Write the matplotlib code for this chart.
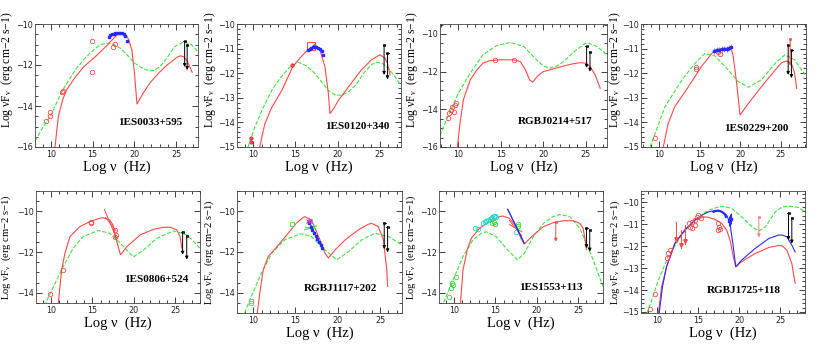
import matplotlib
matplotlib.use("Agg")
import matplotlib.pyplot as plt
from matplotlib.ticker import MultipleLocator

plt.rcParams['mathtext.fontset'] = 'custom'
plt.rcParams['mathtext.rm'] = 'Liberation Serif'
plt.rcParams['mathtext.it'] = 'Liberation Serif:italic'
plt.rcParams['font.family'] = ['DejaVu Sans']

RED = '#ff4a4a'
GREEN = '#44e044'
BLUE = '#2a2aff'

names = ["1ES0033+595", "1ES0120+340", "RGBJ0214+517", "1ES0229+200",
         "1ES0806+524", "RGBJ1117+202", "1ES1553+113", "RGBJ1725+118"]

# ---------------- Panel 1 : 1ES0033+595 ----------------
p1_green = [(8.1, -15.7), (9.1, -15.0), (10.0, -14.45), (11.3, -13.3), (11.9, -12.9),
            (13.0, -12.2), (13.9, -11.75), (15.1, -11.26), (16.0, -11.0), (16.7, -10.93),
            (17.5, -11.0), (18.4, -11.2), (19.1, -11.5), (20.0, -11.9), (20.7, -12.1),
            (21.5, -12.25), (22.3, -12.27), (23.0, -12.1), (23.9, -11.65), (24.8, -11.1),
            (25.9, -10.87), (26.8, -11.0), (27.6, -11.35)]
p1_red = [(10.5, -16.0), (10.7, -15.2), (10.9, -14.5), (11.4, -13.7), (11.9, -13.2),
          (12.9, -12.6), (13.9, -12.1), (15.3, -11.6), (16.2, -11.25), (16.7, -11.05),
          (17.5, -10.7), (18.0, -10.5), (18.5, -10.42), (19.0, -10.55), (19.3, -10.75),
          (19.7, -11.3), (20.0, -12.4), (20.3, -13.9), (21.0, -13.4), (21.9, -12.85),
          (23.0, -12.35), (23.9, -12.0), (25.1, -11.62), (25.5, -11.55), (25.9, -11.6),
          (26.3, -11.8), (26.9, -12.35)]
p1_circ_x = [9.36, 9.84, 9.9, 11.3, 11.5, 14.9, 14.9, 17.4, 17.7]
p1_circ_y = [-14.72, -14.28, -14.5, -13.3, -13.25, -10.85, -12.32, -11.1, -10.96]
p1_blue_x = [16.9, 17.1, 17.3, 17.5, 17.7, 17.9, 18.1, 18.3, 18.5, 18.7, 18.9, 19.05]
p1_blue_y = [-10.62, -10.56, -10.5, -10.47, -10.44, -10.42, -10.42, -10.43, -10.45, -10.5, -10.58, -10.85]
p1_ul_x = [26.0, 26.3]
p1_ul_top = [-10.85, -11.0]
p1_ul_bot = [-12.1, -12.25]

# ---------------- Panel 2 : 1ES0120+340 ----------------
p2_green = [(9.4, -15.0), (10.2, -14.2), (11.2, -13.4), (12.2, -12.7), (13.2, -12.2),
            (14.2, -11.8), (15.3, -11.55), (16.3, -11.7), (17.3, -12.0), (18.1, -12.35),
            (18.9, -12.7), (19.7, -12.88), (20.5, -12.9), (21.3, -12.75), (22.1, -12.5),
            (23.2, -11.95), (24.0, -11.65), (24.6, -11.55), (25.3, -11.6), (26.0, -11.8),
            (26.8, -12.15), (27.6, -12.55)]
p2_red = [(10.8, -15.0), (11.1, -14.5), (11.4, -14.05), (12.2, -13.4), (13.4, -12.7),
          (14.7, -11.73), (15.5, -11.4), (16.1, -11.18), (16.7, -11.0), (17.3, -10.87),
          (17.9, -11.05), (18.5, -11.73), (18.9, -12.8), (19.1, -13.64), (19.6, -13.4),
          (20.1, -13.1), (21.3, -12.55), (22.8, -11.87), (24.0, -11.46), (25.0, -11.25),
          (25.6, -11.39), (25.9, -11.6), (26.2, -12.07)]
p2_dot_x = [9.7, 9.7, 14.6, 17.2]
p2_dot_y = [-14.63, -14.8, -11.68, -10.9]
p2_sq_x = [16.8]
p2_sq_y = [-10.9]
p2_blue_x = [16.5, 16.7, 16.9, 17.1, 17.3, 17.5, 17.7, 17.9, 18.1, 18.3]
p2_blue_y = [-11.05, -11.0, -10.97, -10.95, -10.94, -10.95, -10.98, -11.03, -11.1, -11.25]
p2_ul_x = [25.5, 25.9]
p2_ul_top = [-10.85, -11.18]
p2_ul_bot = [-12.07, -12.25]

# ---------------- Panel 3 : RGBJ0214+517 ----------------
p3_green = [(7.85, -15.4), (8.6, -14.57), (10.0, -13.15), (11.4, -12.08), (12.9, -11.1),
            (14.5, -10.62), (16.1, -10.45), (17.7, -10.66), (19.2, -11.37), (20.0, -11.7),
            (20.8, -11.81), (21.6, -11.7), (22.4, -11.46), (23.9, -10.84), (25.1, -10.45),
            (26.3, -10.66), (27.5, -11.1)]
p3_red = [(9.9, -16.0), (10.2, -14.75), (10.6, -13.5), (11.4, -12.44), (12.2, -11.9),
          (12.9, -11.55), (13.7, -11.42), (14.9, -11.37), (16.5, -11.37), (17.3, -11.46),
          (17.9, -11.9), (18.4, -12.44), (18.75, -12.56), (19.4, -12.2), (20.0, -12.0),
          (20.8, -11.9), (22.4, -11.7), (23.5, -11.58), (24.4, -11.52), (25.0, -11.55),
          (25.5, -11.73), (26.1, -12.17), (26.7, -12.88)]
p3_circ_x = [8.8, 8.9, 9.2, 9.3, 9.5, 9.6, 9.7, 14.3, 16.6]
p3_circ_y = [-14.48, -14.2, -14.04, -13.86, -14.13, -13.77, -13.68, -11.4, -11.37]
p3_ul_x = [25.1, 25.5]
p3_ul_top = [-10.66, -10.93]
p3_ul_bot = [-11.8, -12.0]

# ---------------- Panel 4 : 1ES0229+200 ----------------
p4_green = [(8.85, -15.0), (9.5, -14.45), (10.7, -13.37), (12.8, -12.27), (14.4, -11.6),
            (15.6, -11.2), (16.9, -11.3), (18.5, -11.87), (19.75, -12.34), (21.0, -12.57),
            (22.6, -12.27), (24.3, -11.6), (25.5, -11.25), (26.7, -11.46), (28.0, -12.07)]
p4_red = [(10.5, -15.0), (11.1, -14.05), (11.9, -13.37), (13.6, -12.55), (15.2, -11.73),
          (16.5, -11.19), (16.9, -11.05), (18.1, -10.98), (18.9, -11.05), (19.1, -11.25),
          (19.55, -12.41), (19.96, -13.7), (21.0, -13.23), (22.6, -12.55), (24.3, -11.87),
          (25.1, -11.57), (25.7, -11.5), (26.3, -11.6), (26.7, -12.0), (26.95, -12.62)]
p4_circ_x = [9.5, 14.5, 14.5, 17.3, 17.5]
p4_circ_y = [-14.63, -11.75, -11.82, -11.15, -11.2]
p4_blue_x = [16.8, 17.1, 17.4, 17.7, 18.0, 18.3, 18.6, 18.8]
p4_blue_y = [-11.1, -11.07, -11.05, -11.03, -11.02, -11.0, -10.98, -10.95]
p4_red_ul_x = [26.15]
p4_red_ul_top = [-10.6]
p4_red_ul_bot = [-11.7]
p4_ul_x = [25.9, 26.3]
p4_ul_top = [-10.85, -11.05]
p4_ul_bot = [-12.07, -12.2]

# ---------------- Panel 5 : 1ES0806+524 ----------------
p5_green = [(8.5, -14.75), (9.3, -14.55), (9.9, -14.05), (11.3, -12.86), (12.7, -11.8),
            (13.9, -11.24), (15.7, -10.94), (17.1, -11.07), (18.75, -11.72), (19.96, -12.24),
            (21.2, -11.89), (22.8, -11.32), (24.8, -10.96), (26.4, -11.15), (28.0, -11.8)]
p5_red = [(10.9, -14.5), (11.1, -13.67), (11.3, -12.86), (11.7, -12.05), (12.3, -11.24),
          (13.5, -10.75), (14.7, -10.5), (15.9, -10.34), (16.3, -10.31), (17.1, -10.42),
          (17.5, -10.67), (17.95, -11.48), (18.4, -12.13), (19.2, -11.72), (20.8, -11.15),
          (22.4, -10.88), (23.6, -10.78), (24.4, -10.78), (25.2, -10.91), (25.6, -11.24),
          (25.8, -11.8)]
p5_circ_x = [9.3, 9.9, 11.5, 14.9, 14.9, 17.75, 17.8, 17.7]
p5_circ_y = [-14.65, -14.07, -12.86, -10.5, -10.58, -10.91, -11.15, -11.25]
p5_bow_x0 = [16.45, 16.6]
p5_bow_y0 = [-9.9, -10.3]
p5_bow_x1 = [17.9, 17.85]
p5_bow_y1 = [-11.3, -10.95]
p5_ul_x = [25.9, 26.4]
p5_ul_top = [-10.99, -11.2]
p5_ul_bot = [-12.13, -12.37]

# ---------------- Panel 6 : RGBJ1117+202 ----------------
p6_green = [(9.0, -15.0), (9.8, -14.18), (10.8, -13.2), (12.2, -12.06), (13.75, -11.4),
            (15.7, -11.1), (16.9, -11.24), (18.5, -11.89), (19.9, -12.38), (21.3, -11.98),
            (22.85, -11.4), (24.4, -11.08), (26.0, -11.24), (27.6, -11.65)]
p6_red = [(10.5, -15.0), (10.8, -14.0), (11.2, -12.87), (11.8, -12.22), (13.0, -11.65),
          (14.15, -11.08), (15.1, -10.59), (15.9, -10.31), (16.1, -10.26), (16.9, -10.42),
          (17.9, -11.4), (18.5, -12.06), (18.9, -12.3), (19.7, -11.89), (20.9, -11.4),
          (22.45, -10.91), (23.6, -10.64), (24.0, -10.59), (24.8, -10.75), (25.4, -11.4),
          (25.8, -12.87), (25.9, -13.69)]
p6_sq_x = [9.7, 9.7, 14.6]
p6_sq_y = [-14.42, -14.52, -10.62]
p6_blue_x = [16.6, 16.8, 17.0, 17.2, 17.4, 17.6, 17.8, 18.0, 18.2]
p6_blue_y = [-10.55, -10.75, -10.9, -11.05, -11.2, -11.35, -11.5, -11.65, -11.8]
p6_x_x = [16.5, 16.7]
p6_x_y = [-10.5, -10.5]
p6_bow_x0 = [16.1, 16.2]
p6_bow_y0 = [-10.91, -10.78]
p6_bow_x1 = [17.5, 17.4]
p6_bow_y1 = [-10.72, -10.85]
p6_pl_x = [16.7, 18.2]
p6_pl_y = [-10.59, -11.81]
p6_ul_x = [25.5, 25.9]
p6_ul_top = [-10.56, -10.75]
p6_ul_bot = [-11.86, -12.02]

# ---------------- Panel 7 : 1ES1553+113 ----------------
p7_green = [(8.2, -15.0), (8.5, -14.75), (9.07, -14.18), (9.9, -13.36), (11.1, -12.22),
            (12.3, -11.4), (13.3, -11.08), (13.9, -11.0), (15.1, -11.24), (16.3, -11.81),
            (17.1, -12.14), (17.66, -12.38), (18.5, -12.06), (19.6, -11.24), (20.8, -10.59),
            (21.98, -10.26), (22.8, -10.15), (24.0, -10.26), (25.2, -10.83), (26.0, -11.57),
            (26.8, -12.38), (28.0, -13.69)]
p7_red = [(10.8, -14.5), (11.1, -12.87), (11.6, -11.89), (12.1, -11.32), (13.1, -10.83),
          (14.3, -10.5), (15.5, -10.26), (15.9, -10.23), (16.7, -10.34), (17.5, -10.75),
          (18.1, -11.32), (18.5, -11.6), (19.6, -11.16), (20.8, -10.75), (21.98, -10.56),
          (23.2, -10.46), (24.4, -10.46), (25.2, -10.59), (25.6, -10.83), (25.9, -11.57),
          (26.0, -11.89)]
p7_radio_x = [8.67, 9.4, 9.6, 9.8, 9.85, 10.2]
p7_radio_y = [-14.75, -14.2, -13.77, -13.53, -13.6, -13.2]
p7_cyan_x = [12.5, 12.9, 13.5, 13.7, 13.9, 14.1, 14.3, 14.5, 14.6, 14.8, 15.0, 15.1, 17.5]
p7_cyan_y = [-10.83, -10.88, -10.55, -10.5, -10.45, -10.42, -10.38, -10.35, -10.3, -10.25, -10.22, -10.3, -11.0]
p7_gopt_x = [14.6, 14.9, 15.0, 17.7, 17.75]
p7_gopt_y = [-10.55, -10.5, -10.6, -10.6, -10.7]
p7_bow_x0 = [16.7, 16.7]
p7_bow_y0 = [-10.45, -10.65]
p7_bow_x1 = [18.2, 18.2]
p7_bow_y1 = [-11.2, -11.0]
p7_pl_x = [16.5, 18.5]
p7_pl_y = [-9.9, -11.57]
p7_red_ul_x = [22.3]
p7_red_ul_top = [-10.5]
p7_red_ul_bot = [-11.49]
p7_ul_x = [26.0, 26.4]
p7_ul_top = [-10.83, -10.91]
p7_ul_bot = [-11.81, -11.98]

# ---------------- Panel 8 : RGBJ1725+118 ----------------
p8_green = [(8.8, -15.08), (9.4, -14.47), (10.2, -13.55), (11.4, -12.48), (13.0, -11.5),
            (14.66, -10.8), (16.3, -10.35), (17.9, -10.17), (19.1, -10.27), (20.3, -10.66),
            (21.55, -11.11), (22.4, -11.31), (23.2, -11.11), (24.4, -10.43), (25.2, -10.22),
            (26.0, -10.17), (27.2, -10.23), (28.0, -10.43)]
p8_red = [(10.2, -15.08), (10.6, -13.86), (11.2, -12.94), (12.2, -11.88), (13.4, -11.27),
          (14.66, -10.8), (15.7, -10.66), (16.3, -10.68), (17.1, -10.78), (17.9, -10.96),
          (18.5, -11.27), (18.9, -11.72), (19.3, -12.48), (19.6, -12.94), (20.3, -12.71),
          (21.96, -12.33), (23.6, -12.06), (24.8, -11.97), (25.2, -11.97), (25.8, -12.18),
          (26.4, -12.79), (26.8, -13.7)]
p8_blue = [(10.3, -15.08), (10.7, -13.86), (11.2, -12.94), (12.2, -11.88), (13.4, -11.27),
           (14.66, -10.8), (15.5, -10.58), (16.3, -10.43), (17.1, -10.38), (17.9, -10.43),
           (18.5, -10.58), (18.9, -10.96), (19.3, -12.03), (19.6, -12.94), (20.3, -12.64),
           (21.96, -12.1), (23.6, -11.65), (24.8, -11.49), (25.2, -11.49), (25.8, -11.57),
           (26.4, -11.95), (26.8, -12.26)]
p8_bdat_x = [16.9, 17.1, 17.3, 17.5, 17.7, 17.9, 18.1, 18.3, 18.4]
p8_bdat_y = [-10.43, -10.4, -10.38, -10.38, -10.4, -10.43, -10.48, -10.56, -10.66]
p8_berr_x = [18.75, 18.9, 19.05]
p8_berr_y = [-10.85, -10.8, -10.75]
p8_circ_x = [9.2, 9.8, 11.2, 11.4, 11.6, 13.9, 14.05, 14.26, 14.3, 14.6, 14.66, 14.86, 15.07, 15.4,
             17.4, 17.6, 17.7, 17.5]
p8_circ_y = [-14.85, -14.19, -12.52, -12.33, -12.18, -10.96, -11.11, -10.88, -11.19, -10.8, -11.04,
             -10.66, -10.58, -10.73, -10.96, -11.11, -11.23, -11.27]
p8_rerr_x = [12.4, 13.0, 13.4]
p8_rerr_top = [-10.88, -11.27, -11.04]
p8_rerr_bot = [-11.8, -12.1, -11.9]
p8_pink_x = [22.4]
p8_pink_top = [-10.66]
p8_pink_bot = [-11.6]
p8_ul_x = [26.0, 26.4]
p8_ul_top = [-10.47, -10.69]
p8_ul_bot = [-11.72, -11.88]

# ---------------- layout helpers ----------------
W, H = 830, 352
fig = plt.figure(figsize=(W / 100, H / 100), dpi=100)


def make_ax(l, r, t, b, xlim, ylim, ymaj, ymin, ylab_dx, ylab_fy, ylab_fs):
    ax = fig.add_axes([l / W, 1 - b / H, (r - l) / W, (b - t) / H])
    ax.set_xlim(*xlim)
    ax.set_ylim(*ylim)
    ax.xaxis.set_major_locator(MultipleLocator(5))
    ax.xaxis.set_minor_locator(MultipleLocator(1))
    ax.yaxis.set_major_locator(MultipleLocator(ymaj))
    ax.yaxis.set_minor_locator(MultipleLocator(ymin))
    ax.tick_params(which='both', direction='in', top=True, right=True, labelsize=5.8,
                   colors='#222222', width=0.6, pad=2)
    ax.tick_params(axis='y', pad=1.5)
    ax.tick_params(which='major', length=4)
    ax.tick_params(which='minor', length=2)
    for s in ax.spines.values():
        s.set_linewidth(0.6)
        s.set_color('#444444')
    ax.set_xlabel('Log ν  (Hz)', family='Liberation Serif', fontsize=10.5, labelpad=1)
    ax.set_ylabel('Log νF$_{\\mathrm{ν}}$  (erg cm−2 s−1)', family='Liberation Serif',
                  fontsize=ylab_fs, va='center', ha='center')
    ax.yaxis.set_label_coords(-ylab_dx / (r - l), ylab_fy)
    return ax


def curve(ax, pts, color, ls='-', lw=0.8):
    ax.plot([p[0] for p in pts], [p[1] for p in pts], color=color, ls=ls, lw=lw)


def uls(ax, xs, tops, bots, color='k'):
    for x, t, b in zip(xs, tops, bots):
        ax.annotate('', xy=(x, b), xytext=(x, t),
                    arrowprops=dict(arrowstyle='-|>', color=color, lw=0.7,
                                    mutation_scale=4.5, shrinkA=0, shrinkB=0))
        ax.plot([x - 0.15, x + 0.15], [t, t], color=color, lw=0.6)
    ax.plot(xs, tops, 's', ms=1.8, color=color, mfc='none', mew=0.5)


def label(ax, txt, fx, fy):
    ax.text(fx, fy, txt, transform=ax.transAxes, ha='center', va='center',
            family='Liberation Serif', fontweight='bold', fontsize=8)


def circles(ax, xs, ys, color=RED, marker='o', ms=3.2):
    ax.plot(xs, ys, marker, ls='none', ms=ms, mfc='none', mec=color, mew=0.6)


TOP_FS = 8.4
BOT_FS = 7.6

# Panel 1
ax = make_ax(35, 198, 24, 147, (8.1, 27.6), (-16, -10), 2, 0.5, 28, 0.63, TOP_FS)
curve(ax, p1_green, GREEN, '--')
curve(ax, p1_red, RED)
circles(ax, p1_circ_x, p1_circ_y)
ax.plot(p1_blue_x, p1_blue_y, 's', ms=1.8, color=BLUE)
uls(ax, p1_ul_x, p1_ul_top, p1_ul_bot)
label(ax, names[0], 0.71, 0.20)

# Panel 2
ax = make_ax(237, 401, 24, 147, (8.1, 27.5), (-15, -10), 1, 0.2, 27, 0.63, TOP_FS)
curve(ax, p2_green, GREEN, '--')
curve(ax, p2_red, RED)
ax.plot(p2_dot_x, p2_dot_y, 'o', ms=2.5, color=RED, mec='#aa2222', mew=0.4)
ax.plot(p2_sq_x, p2_sq_y, 's', ms=5.5, mfc='none', mec=RED, mew=0.7)
ax.plot(p2_blue_x, p2_blue_y, 's', ms=1.8, color=BLUE)
uls(ax, p2_ul_x, p2_ul_top, p2_ul_bot)
label(ax, names[1], 0.736, 0.163)

# Panel 3
ax = make_ax(440, 607, 24, 147, (7.85, 27.5), (-16, -9.47), 2, 0.5, 28, 0.63, TOP_FS)
curve(ax, p3_green, GREEN, '--')
curve(ax, p3_red, RED)
circles(ax, p3_circ_x, p3_circ_y)
uls(ax, p3_ul_x, p3_ul_top, p3_ul_bot)
label(ax, names[2], 0.69, 0.21)

# Panel 4
ax = make_ax(641, 806, 24, 147, (7.75, 28.1), (-15, -10), 1, 0.2, 26, 0.63, TOP_FS)
curve(ax, p4_green, GREEN, '--')
curve(ax, p4_red, RED)
circles(ax, p4_circ_x, p4_circ_y)
ax.errorbar(p4_blue_x, p4_blue_y, yerr=0.12, fmt='s', ms=1.8, color=BLUE,
            ecolor='#6f8fff', elinewidth=0.7)
ax.plot(p4_blue_x, p4_blue_y, color=BLUE, lw=1.2)
uls(ax, p4_red_ul_x, p4_red_ul_top, p4_red_ul_bot, color=RED)
uls(ax, p4_ul_x, p4_ul_top, p4_ul_bot)
label(ax, names[3], 0.70, 0.15)

# Panel 5
ax = make_ax(36, 200, 191, 303, (8.2, 28.0), (-14.5, -9.0), 2, 0.5, 30, 0.5, BOT_FS)
curve(ax, p5_green, GREEN, '--')
curve(ax, p5_red, RED)
circles(ax, p5_circ_x, p5_circ_y)
for x0, y0, x1, y1 in zip(p5_bow_x0, p5_bow_y0, p5_bow_x1, p5_bow_y1):
    ax.plot([x0, x1], [y0, y1], color=RED, lw=0.7)
uls(ax, p5_ul_x, p5_ul_top, p5_ul_bot)
label(ax, names[4], 0.736, 0.214)

# Panel 6
ax = make_ax(237, 402, 191, 313, (8.1, 27.6), (-15, -9.0), 2, 0.5, 28, 0.5, BOT_FS)
curve(ax, p6_green, GREEN, '--')
curve(ax, p6_red, RED)
circles(ax, p6_sq_x, p6_sq_y, color=GREEN, marker='s', ms=3)
for x0, y0, x1, y1 in zip(p6_bow_x0, p6_bow_y0, p6_bow_x1, p6_bow_y1):
    ax.plot([x0, x1], [y0, y1], color=GREEN, lw=0.8)
ax.plot(p6_pl_x, p6_pl_y, color='#3030a0', lw=0.8)
ax.plot(p6_blue_x, p6_blue_y, 's', ms=1.8, color=BLUE)
ax.plot(p6_x_x, p6_x_y, 'x', ms=3, color='#a040c0', mew=0.8)
uls(ax, p6_ul_x, p6_ul_top, p6_ul_bot)
label(ax, names[5], 0.625, 0.204)

# Panel 7
ax = make_ax(439, 603, 191, 303, (8.2, 28.0), (-14.5, -9.0), 2, 0.5, 28, 0.5, BOT_FS)
curve(ax, p7_green, GREEN, '--')
curve(ax, p7_red, RED)
circles(ax, p7_radio_x, p7_radio_y, color='#40d040', ms=3.2)
circles(ax, p7_cyan_x, p7_cyan_y, color='#20d8c0', ms=3.2)
circles(ax, p7_gopt_x, p7_gopt_y, color='#40d040', ms=3.2)
for x0, y0, x1, y1 in zip(p7_bow_x0, p7_bow_y0, p7_bow_x1, p7_bow_y1):
    ax.plot([x0, x1], [y0, y1], color=RED, lw=0.7)
ax.plot(p7_pl_x, p7_pl_y, color=BLUE, lw=1.0)
uls(ax, p7_red_ul_x, p7_red_ul_top, p7_red_ul_bot, color=RED)
uls(ax, p7_ul_x, p7_ul_top, p7_ul_bot)
label(ax, names[6], 0.68, 0.134)

# Panel 8
ax = make_ax(641, 805, 191, 313, (8.1, 28.0), (-15.05, -9.48), 1, 0.2, 26, 0.5, BOT_FS)
curve(ax, p8_green, GREEN, '--')
curve(ax, p8_red, RED)
curve(ax, p8_blue, BLUE)
circles(ax, p8_circ_x, p8_circ_y)
ax.plot(p8_bdat_x, p8_bdat_y, color=BLUE, lw=1.6)
ax.errorbar(p8_berr_x, p8_berr_y, yerr=0.25, fmt='s', ms=1.8, color=BLUE, elinewidth=0.8)
for x, t, b in zip(p8_rerr_x, p8_rerr_top, p8_rerr_bot):
    ax.plot([x, x], [t, b], color=RED, lw=0.7)
    ax.plot([x], [b + 0.15], 'v', ms=2.5, color=RED)
uls(ax, p8_pink_x, p8_pink_top, p8_pink_bot, color='#f08080')
uls(ax, p8_ul_x, p8_ul_top, p8_ul_bot)
label(ax, names[7], 0.624, 0.183)

fig.savefig('out.png', dpi=100)
